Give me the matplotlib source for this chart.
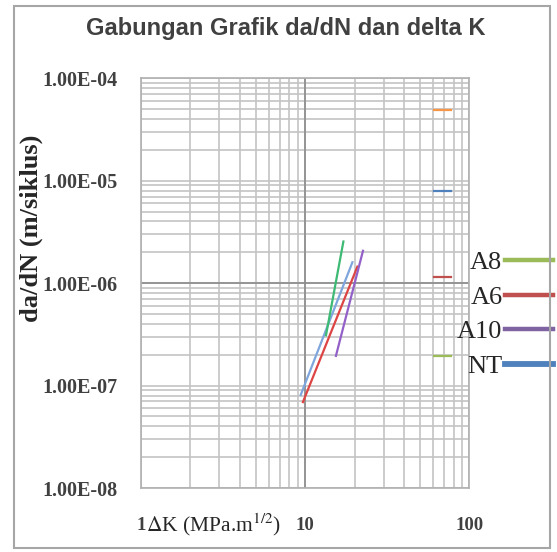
import matplotlib
matplotlib.use("Agg")
import matplotlib.pyplot as plt
from matplotlib.lines import Line2D
from matplotlib.patches import Rectangle
from matplotlib.ticker import FixedLocator, LogLocator, FuncFormatter

plt.rcParams['mathtext.fontset'] = 'stix'

# trend lines (delta K in MPa.m^1/2, da/dN in m/cycle)
series_names = ['A8', 'A6', 'A10', 'NT']
dK_A8 = [13.4, 17.1]
dadN_A8 = [3.1e-7, 2.55e-6]
dK_A6 = [9.7, 20.8]
dadN_A6 = [6.9e-8, 1.45e-6]
dK_A10 = [15.4, 22.5]
dadN_A10 = [1.95e-7, 2.07e-6]
dK_NT = [9.4, 19.4]
dadN_NT = [8.1e-8, 1.6e-6]

# short stray dashes near the right side
dash_x = [61, 77]
dash_y = [4.9e-5, 8.0e-6, 1.14e-6, 1.94e-7]
dash_colors = ['#f79646', '#4f81bd', '#c0504d', '#9bbb59']

line_colors = {'A8': '#3dba74', 'A6': '#dd4444', 'A10': '#9360c8', 'NT': '#7ea6dc'}
legend_colors = {'A8': '#9bbb59', 'A6': '#c0504d', 'A10': '#8064a2', 'NT': '#4f81bd'}

fig = plt.figure(figsize=(5.57, 5.52), dpi=100)
ax = fig.add_axes([0.2526, 0.1159, 0.5903, 0.7423])

# outer chart border
fig.patches.append(Rectangle((14 / 557, 4 / 552), 536 / 557, 542 / 552,
                             transform=fig.transFigure, fill=False,
                             edgecolor='#a6a6a6', linewidth=1.5))

ax.set_xscale('log')
ax.set_yscale('log')
ax.set_xlim(1, 100)
ax.set_ylim(1e-8, 1e-4)

ax.grid(True, which='both', color='#c4c4c4', linewidth=1.2)
ax.axhline(1e-6, color='#8c8c8c', linewidth=1.2)
ax.axvline(10, color='#8c8c8c', linewidth=1.2)

data = {'A8': (dK_A8, dadN_A8), 'A6': (dK_A6, dadN_A6),
        'A10': (dK_A10, dadN_A10), 'NT': (dK_NT, dadN_NT)}
for name in ['NT', 'A6', 'A10', 'A8']:
    xs, ys = data[name]
    ax.plot(xs, ys, color=line_colors[name], linewidth=1.6)

for yv, col in zip(dash_y, dash_colors):
    ax.plot(dash_x, [yv, yv], color=col, linewidth=1.6)

ax.xaxis.set_major_locator(FixedLocator([1, 10, 100]))
ax.xaxis.set_minor_locator(LogLocator(base=10, subs=range(2, 10)))
ax.yaxis.set_major_locator(FixedLocator([1e-8, 1e-7, 1e-6, 1e-5, 1e-4]))
ax.yaxis.set_minor_locator(LogLocator(base=10, subs=range(2, 10)))
ax.xaxis.set_major_formatter(FuncFormatter(lambda v, p: '%d' % v))
ax.yaxis.set_major_formatter(FuncFormatter(lambda v, p: '%.2E' % v))
ax.xaxis.set_minor_formatter(FuncFormatter(lambda v, p: ''))
ax.yaxis.set_minor_formatter(FuncFormatter(lambda v, p: ''))

ax.tick_params(axis='both', which='both', length=0)
ax.tick_params(axis='y', which='major', pad=16.5, labelsize=14.5, labelcolor='#404040')
ax.tick_params(axis='x', which='major', pad=21, labelsize=13.5, labelcolor='#404040')
for lab in ax.get_xticklabels() + ax.get_yticklabels():
    lab.set_fontfamily('Liberation Serif')
    lab.set_fontweight('bold')

for s in ax.spines.values():
    s.set_color('#b0b0b0')
    s.set_linewidth(1.2)

ax.set_xlabel(r'$\Delta$K (MPa.m$^{1/2}$)', fontsize=15.5, family='Liberation Serif',
              color='#262626')
ax.xaxis.set_label_coords(0.222, -0.056)
ax.set_ylabel('da/dN (m/siklus)', fontsize=19, family='Liberation Serif',
              fontweight='bold', color='#262626')
ax.yaxis.set_label_coords(-0.298, 0.635)

fig.text(0.5126, 0.949, 'Gabungan Grafik da/dN dan delta K', ha='center', va='center',
         fontsize=17, fontweight='bold', family='Liberation Sans', color='#404040')

handles = [Line2D([], [], color=legend_colors[n], linewidth=3.2 if n != 'NT' else 4.2)
           for n in series_names]
leg = ax.legend(handles, series_names, markerfirst=False, frameon=False,
                loc='center left', bbox_to_anchor=(0.93, 0.424),
                prop={'family': 'Liberation Serif', 'size': 19},
                handlelength=1.8, handletextpad=0.1, labelspacing=0.42,
                borderaxespad=0)
for t in leg.get_texts():
    t.set_color('#262626')

fig.savefig('out.png', dpi=100)
